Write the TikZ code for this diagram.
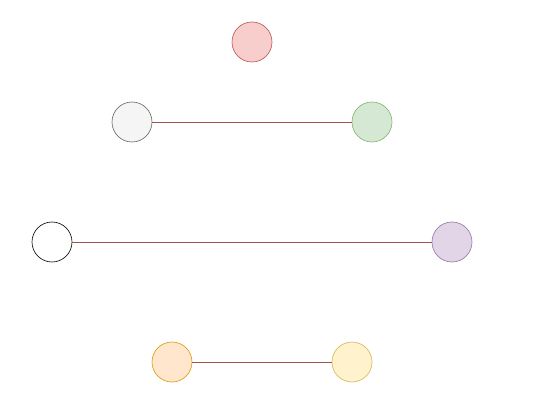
\documentclass[tikz,border=0pt]{standalone}
\begin{document}
\begin{tikzpicture}[x=1pt,y=-1pt,
  dot/.style={circle,minimum size=40pt,inner sep=0pt,line width=0.6pt},
  link/.style={draw=linkc,line width=0.7pt}]
\definecolor{linkc}{HTML}{A0524F}
\definecolor{redF}{HTML}{F8CECC}\definecolor{redD}{HTML}{B85450}
\definecolor{grayF}{HTML}{F5F5F5}\definecolor{grayD}{HTML}{666666}
\definecolor{greenF}{HTML}{D5E8D4}\definecolor{greenD}{HTML}{82B366}
\definecolor{purpF}{HTML}{E1D5E7}\definecolor{purpD}{HTML}{9673A6}
\definecolor{orF}{HTML}{FFE6CC}\definecolor{orD}{HTML}{D79B00}
\definecolor{yeF}{HTML}{FFF2CC}\definecolor{yeD}{HTML}{D6B656}
\useasboundingbox[fill=white] (0,0) rectangle (544,409);
\node[dot,fill=redF,draw=redD] (r) at (252,42) {};
\node[dot,fill=grayF,draw=grayD] (g) at (132,122) {};
\node[dot,fill=greenF,draw=greenD] (gr) at (372,122) {};
\node[dot,fill=white,draw=black] (w) at (52,242) {};
\node[dot,fill=purpF,draw=purpD] (p) at (452,242) {};
\node[dot,fill=orF,draw=orD] (o) at (172,362) {};
\node[dot,fill=yeF,draw=yeD] (y) at (352,362) {};
\draw[link] (g) -- (gr);
\draw[link] (w) -- (p);
\draw[link] (o) -- (y);
\end{tikzpicture}
\end{document}
